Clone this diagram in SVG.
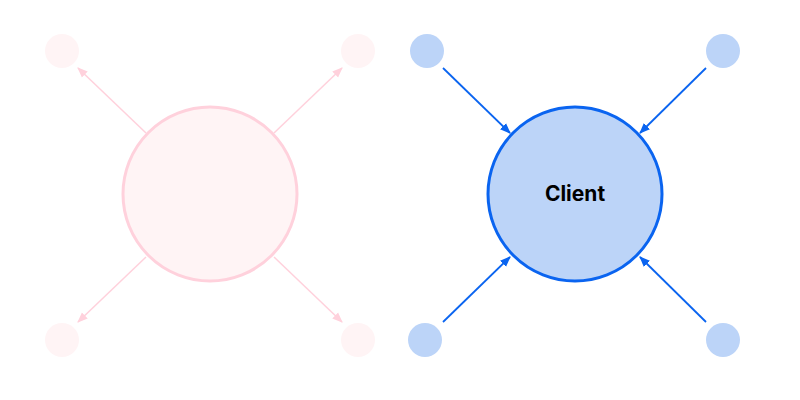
<svg xmlns="http://www.w3.org/2000/svg" width="800" height="400" viewBox="0 0 800 400">
<style>
.ps{fill:#fff4f5}
.bs{fill:#bcd4f8}
.pl{stroke:#ffd1dc;stroke-width:1.5;fill:none}
.bl{stroke:#0a64f0;stroke-width:1.8;fill:none}
</style>
<defs>
<marker id="ap" viewBox="0 0 10 10" refX="9" refY="5" markerWidth="7" markerHeight="7" orient="auto"><path d="M0,1L10,5L0,9z" fill="#ffd1dc"/></marker>
<marker id="ab" viewBox="0 0 10 10" refX="9" refY="5" markerWidth="6" markerHeight="6" orient="auto"><path d="M0,1L10,5L0,9z" fill="#0a64f0"/></marker>
</defs>
<rect width="800" height="400" fill="#fff"/>
<g id="connectors">
<line class="pl" x1="146" y1="133" x2="78" y2="68" marker-end="url(#ap)"/>
<line class="pl" x1="274" y1="133" x2="342" y2="68" marker-end="url(#ap)"/>
<line class="pl" x1="146" y1="257" x2="78" y2="322" marker-end="url(#ap)"/>
<line class="pl" x1="274" y1="257" x2="342" y2="322" marker-end="url(#ap)"/>
<line class="bl" x1="443" y1="68" x2="510" y2="133" marker-end="url(#ab)"/>
<line class="bl" x1="706" y1="68" x2="640" y2="133" marker-end="url(#ab)"/>
<line class="bl" x1="443" y1="322" x2="510" y2="257" marker-end="url(#ab)"/>
<line class="bl" x1="706" y1="322" x2="640" y2="257" marker-end="url(#ab)"/>
</g>
<g id="left-center"><circle cx="210" cy="194" r="87" fill="#fff4f5" stroke="#ffd1dc" stroke-width="3"/></g>
<g id="l1"><circle class="ps" cx="62" cy="51" r="17"/></g>
<g id="l2"><circle class="ps" cx="358" cy="51" r="17"/></g>
<g id="l3"><circle class="ps" cx="62" cy="340" r="17"/></g>
<g id="l4"><circle class="ps" cx="358" cy="340" r="17"/></g>
<g id="client"><circle cx="575" cy="194" r="87" fill="#bcd4f8" stroke="#0a64f0" stroke-width="3"/>
<text x="575" y="201" text-anchor="middle" font-family="Inter, 'Liberation Sans', sans-serif" font-weight="bold" font-size="21" fill="#000">Client</text></g>
<g id="r1"><circle class="bs" cx="427" cy="51" r="17"/></g>
<g id="r2"><circle class="bs" cx="723" cy="51" r="17"/></g>
<g id="r3"><circle class="bs" cx="425" cy="340" r="17"/></g>
<g id="r4"><circle class="bs" cx="723" cy="340" r="17"/></g>
</svg>
